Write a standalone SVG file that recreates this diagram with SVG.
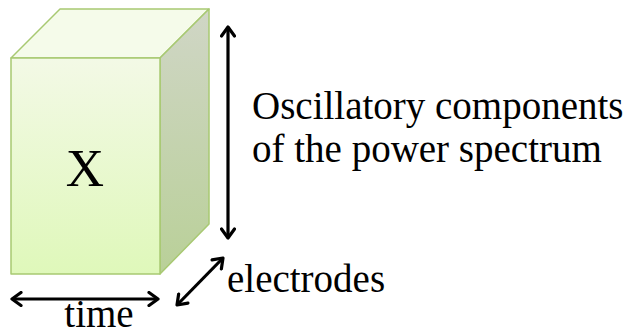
<svg xmlns="http://www.w3.org/2000/svg" width="628" height="336" viewBox="0 0 628 336">
<defs>
<linearGradient id="gFront" x1="0" y1="0" x2="0" y2="1">
<stop offset="0" stop-color="#f3f9e6"/>
<stop offset="1" stop-color="#dff8ba"/>
</linearGradient>
<linearGradient id="gSide" x1="0" y1="0" x2="0" y2="1">
<stop offset="0" stop-color="#d0d6c6"/>
<stop offset="1" stop-color="#b9d098"/>
</linearGradient>
<marker id="ah" viewBox="0 0 14 16" refX="12" refY="8" markerWidth="14" markerHeight="16" markerUnits="userSpaceOnUse" orient="auto-start-reverse">
<path d="M3,1.5 L12,8 L3,14.5" fill="none" stroke="#000" stroke-width="3.2" stroke-linecap="round" stroke-linejoin="round"/>
</marker>
</defs>
<style>
.face{stroke:#a8c972;stroke-width:1.5;stroke-linejoin:round}
.lbl{font-family:"Liberation Serif","DejaVu Serif",serif;fill:#000;font-size:39px}
.arr{stroke:#000;stroke-width:3.2;fill:none;marker-start:url(#ah);marker-end:url(#ah)}
</style>
<g id="cube">
<polygon class="face" points="11,58 60,9 209,9 160,58" fill="#f5fbea"/>
<polygon class="face" points="160,58 209,9 209,224 160,274" fill="url(#gSide)"/>
<rect class="face" x="11" y="58" width="149" height="216" fill="url(#gFront)"/>
<text class="lbl" x="85" y="186" style="font-size:53px" text-anchor="middle">X</text>
</g>
<g id="connectors">
<line class="arr" x1="228" y1="27" x2="228" y2="238"/>
<line class="arr" x1="12" y1="299" x2="158" y2="299"/>
<line class="arr" x1="177" y1="305" x2="223" y2="258"/>
</g>
<g id="label-oscillatory">
<text class="lbl" x="252" y="119">Oscillatory components</text>
<text class="lbl" x="252" y="162">of the power spectrum</text>
</g>
<g id="label-electrodes">
<text class="lbl" x="227" y="292">electrodes</text>
</g>
<g id="label-time">
<text class="lbl" x="99" y="327" text-anchor="middle">time</text>
</g>
</svg>
